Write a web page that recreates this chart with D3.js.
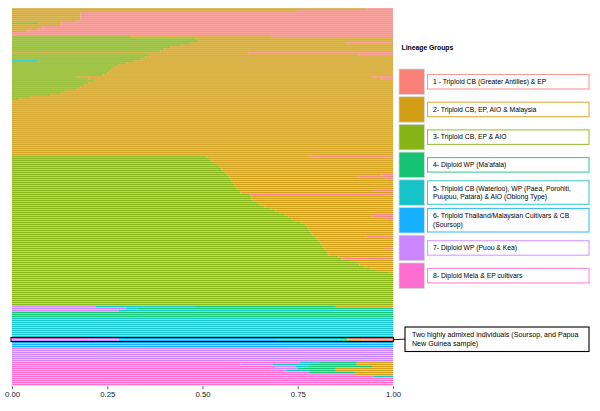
<!DOCTYPE html>
<html><head><meta charset="utf-8">
<script src="https://cdn.jsdelivr.net/npm/d3@7"></script>
<style>body{margin:0;background:#fff}svg{display:block;font-family:"Liberation Sans",Arial,Helvetica,sans-serif}</style>
</head><body><svg id="c" width="600" height="411"></svg>
<script>
// ---- categories ----
const groupKeys = [1,2,3,4,5,6,7,8];
const groupColors = ["#F8766D","#CD9600","#7CAE00","#00BE67","#00BFC4","#00A9FF","#C77CFF","#FF61CC"];
const groupLabels = [
  ["1 - Triploid CB (Greater Antilles) & EP"],
  ["2- Triploid CB, EP, AIO & Malaysia"],
  ["3- Triploid CB, EP & AIO"],
  ["4- Diploid WP (Ma'afala)"],
  ["5- Triploid CB (Waterloo), WP (Paea, Porohiti,","Puupuu, Patara) & AIO (Oblong Type)"],
  ["6- Triploid Thailand/Malaysian Cultivars & CB","(Soursop)"],
  ["7- Diploid WP  (Puou & Kea)"],
  ["8- Diploid Mela & EP cultivars"]
];
const xTicks = [0,0.25,0.5,0.75,1];
const legendTitle = "Lineage Groups";
const noteLines = ["Two highly admixed individuals (Soursop, and Papua","New Guinea sample)"];

// ---- individuals: ancestry proportions {group: q} ----
const blockA = [
  {2:.93,1:.07},{2:.75,1:.25},{2:.18,1:.82},{2:.18,1:.82},{2:.18,1:.82},{2:.18,1:.82},
  {2:.17,1:.83},{3:.07,2:.06,1:.87},{2:.13,1:.87},{2:.08,1:.92},{2:.07,1:.93},{2:.04,1:.96},
  {1:1},{1:1}
];
const blockB = [
  {3:.31,2:.37,1:.32},{3:.48,2:.52},{3:.49,2:.51},{3:.47,2:.41,1:.12},{3:.445,2:.555},{3:.415,2:.585},
  {3:.40,2:.60},{3:.39,2:.61},{2:.62,1:.38},{3:.36,2:.55,1:.09},{3:.35,2:.65},{3:.34,2:.66},
  {5:.07,3:.25,2:.68},{3:.30,2:.70},{3:.28,2:.72},{3:.27,2:.73},{3:.26,2:.74},{3:.255,2:.745},
  {3:.25,2:.75},{3:.24,2:.76},{3:.17,2:.775,1:.055},{3:.20,2:.77,1:.03},{3:.22,2:.78},{3:.20,2:.80},
  {3:.19,2:.81},{3:.18,2:.82},{3:.17,2:.83},{3:.14,2:.86},{3:.13,2:.87},{3:.10,2:.90},
  {3:.05,2:.95},{3:.02,2:.98}
];
const blockC = [
  {2:1},{2:1},{2:1},{2:1},{2:1},{2:1},{2:1},{2:1},{2:1},{2:1},{2:1},{2:1},{2:1},{2:1},
  {2:1},{2:1},{2:1},{2:1},{2:1},{2:1},{2:1},{2:1},{2:1},{2:1},{2:1},{2:1},{2:1},{2:1}
];
const blockD1 = [
  {3:.51,2:.272,1:.218},{3:.517,2:.483},{3:.524,2:.476},{3:.53,2:.47},{3:.538,2:.462},
  {3:.545,2:.455},{3:.55,2:.45},{3:.553,2:.447},{3:.56,2:.44},{3:.565,2:.405,1:.03},
  {3:.57,2:.338,1:.092},{3:.574,2:.409,1:.017},{3:.577,2:.423},{3:.581,2:.419},{3:.583,2:.417},
  {3:.587,2:.413},{3:.592,2:.408},{3:.598,2:.349,1:.053},{3:.60,2:.40},{3:.625,1:.375},
  {3:.627,2:.373},{3:.629,2:.371},{3:.632,2:.368},{3:.645,2:.355},{3:.653,2:.347},
  {3:.662,2:.338},{3:.678,2:.322},{3:.692,2:.308},{3:.703,2:.297},{3:.717,2:.233,1:.05}
];
const blockD2 = [
  {3:.725,2:.219,1:.056},{3:.734,2:.249,1:.017},{3:.74,2:.26},{3:.76,2:.24},{3:.77,2:.23},
  {3:.775,2:.225},{3:.778,2:.222},{3:.78,2:.22},{3:.785,2:.215},{3:.789,2:.211},
  {3:.795,2:.133,1:.072},{3:.80,2:.20},{3:.805,2:.195},{3:.81,2:.19},{3:.813,2:.187},
  {3:.817,2:.183},{3:.82,2:.16,1:.02},{3:.824,2:.176},{3:.827,2:.173},{3:.83,2:.17},
  {3:.857,2:.143},{3:.865,1:.135},{3:.887,2:.113},{3:.905,2:.095},{3:.912,2:.088},
  {3:.925,2:.075},{3:.94,2:.06},{3:.96,2:.04},{3:.99,2:.01}
];
const blockE = [
  {3:1},{3:1},{3:1},{3:1},{3:1},{3:1},{3:1},{3:1},{3:1},{3:1},{3:1},{3:1},{3:1},{3:1},{3:1},{3:1}
];
const blockF = [
  {7:.22,5:.26,4:.37,2:.15},{7:.30,5:.03,4:.67},{7:.28,5:.72},{4:1},{4:1},{4:1}
];
const blockG = [
  {5:1},{5:1},{5:1},{5:1},{5:1},{5:1},{5:1},{5:1},{5:1},{5:1}
];
const blockH = [
  {8:.20,7:.08,6:.41,5:.17,4:.02,1:.12},
  {7:.28,6:.42,5:.17,4:.01,3:.01,2:.03,1:.08}
];
const blockI = [{6:1},{6:1},{6:1}];
const blockJ = [{7:1},{7:1},{7:1},{7:1},{7:1},{7:1},{7:1}];
const blockK = [
  {8:.755,5:.05,4:.10,2:.095},{8:.60,7:.085,5:.10,4:.12,2:.095},{8:.695,7:.05,5:.03,4:.17,2:.055},
  {8:.68,7:.07,4:.10,2:.15},{8:.72,5:.06,4:.07,2:.15},{8:.78,4:.12,2:.10},
  {8:.90,2:.10},{8:.95,5:.05},{8:1},{8:1},{8:1},{8:1}
];

const individuals = [].concat(blockA,blockB,blockC,blockD1,blockD2,blockE,blockF,blockG,blockH,blockI,blockJ,blockK);
const highlightStart = blockA.length+blockB.length+blockC.length+blockD1.length+blockD2.length+blockE.length+blockF.length+blockG.length;

// ---- drawing ----
const svg = d3.select("#c");
const x = d3.scaleLinear().domain([0,1]).range([12,393]);
const y = d3.scaleBand().domain(d3.range(individuals.length)).range([8.3,385.3]).paddingInner(0.2);
const color = d3.scaleOrdinal().domain(groupKeys).range(groupColors);

const stack = d3.stack().keys([8,7,6,5,4,3,2,1]).value((d,k)=>d[k]||0);
const series = stack(individuals);

const g = svg.append("g");
g.selectAll("g.s").data(series).join("g").attr("class","s")
  .attr("fill", s=>color(s.key))
  .selectAll("rect").data(s=>s.map((d,i)=>({d,i})).filter(o=>o.d[1]-o.d[0]>0))
  .join("rect")
  .attr("x", o=>x(o.d[0]))
  .attr("width", o=>x(o.d[1])-x(o.d[0]))
  .attr("y", o=>y(o.i))
  .attr("height", y.bandwidth())
  .attr("fill-opacity", 0.9);

// x axis
const ax = svg.append("g").attr("transform","translate(0,386.3)")
  .call(d3.axisBottom(x).tickValues(xTicks).tickFormat(d3.format(".2f")).tickSize(2.8).tickPadding(2.5));
ax.select(".domain").remove();
ax.selectAll(".tick line").attr("stroke","#333").attr("stroke-width",0.8);
ax.selectAll(".tick text").attr("fill","#222").style("font-size","7.8px").style("font-family","Liberation Sans, Arial, sans-serif");

// highlight box
const hy0 = y(highlightStart) - y.step()*y.paddingInner()/2;
svg.append("rect").attr("x",11).attr("y",hy0).attr("width",382.5).attr("height",y.step()*2)
  .attr("fill","none").attr("stroke","#000").attr("stroke-width",1.1);

// annotation
svg.append("line").attr("x1",393.5).attr("y1",hy0+y.step()).attr("x2",405).attr("y2",339.2)
  .attr("stroke","#000").attr("stroke-width",0.9);
svg.append("rect").attr("x",405).attr("y",327).attr("width",184).attr("height",24.5)
  .attr("fill","#fff").attr("stroke","#000").attr("stroke-width",1.1);
svg.append("g").selectAll("text").data(noteLines).join("text")
  .attr("x",412).attr("y",(d,i)=>336.8+i*9).text(d=>d)
  .style("font-size","7.1px").attr("fill","#000");

// legend
svg.append("text").attr("x",401.5).attr("y",49.5).text(legendTitle)
  .style("font-size","6.8px").style("font-weight","bold").attr("fill","#000");
const step = 27.7, sw0 = 69;
const lg = svg.append("g").selectAll("g").data(groupKeys).join("g");
lg.append("rect").attr("x",399).attr("y",(d,i)=>sw0+i*step).attr("width",25.5).attr("height",25.5)
  .attr("fill",d=>color(d)).attr("fill-opacity",0.92).attr("stroke","#d9d9d9").attr("stroke-width",0.8);
lg.each(function(d,i){
  const lines = groupLabels[i];
  const cy = sw0 + i*step + 12.75;
  const h = lines.length===1 ? 14.5 : 23.5;
  const sel = d3.select(this);
  sel.append("rect").attr("x",427.5).attr("y",cy-h/2).attr("width",161.5).attr("height",h)
    .attr("fill","#fff").attr("stroke",color(d)).attr("stroke-opacity",0.75).attr("stroke-width",1.1);
  sel.selectAll("text").data(lines).join("text")
    .attr("x",433)
    .attr("y",(t,j)=> cy + 2.3 + (j - (lines.length-1)/2)*8.5)
    .text(t=>t).style("font-size","6.8px").attr("fill","#000");
});
</script></body></html>
